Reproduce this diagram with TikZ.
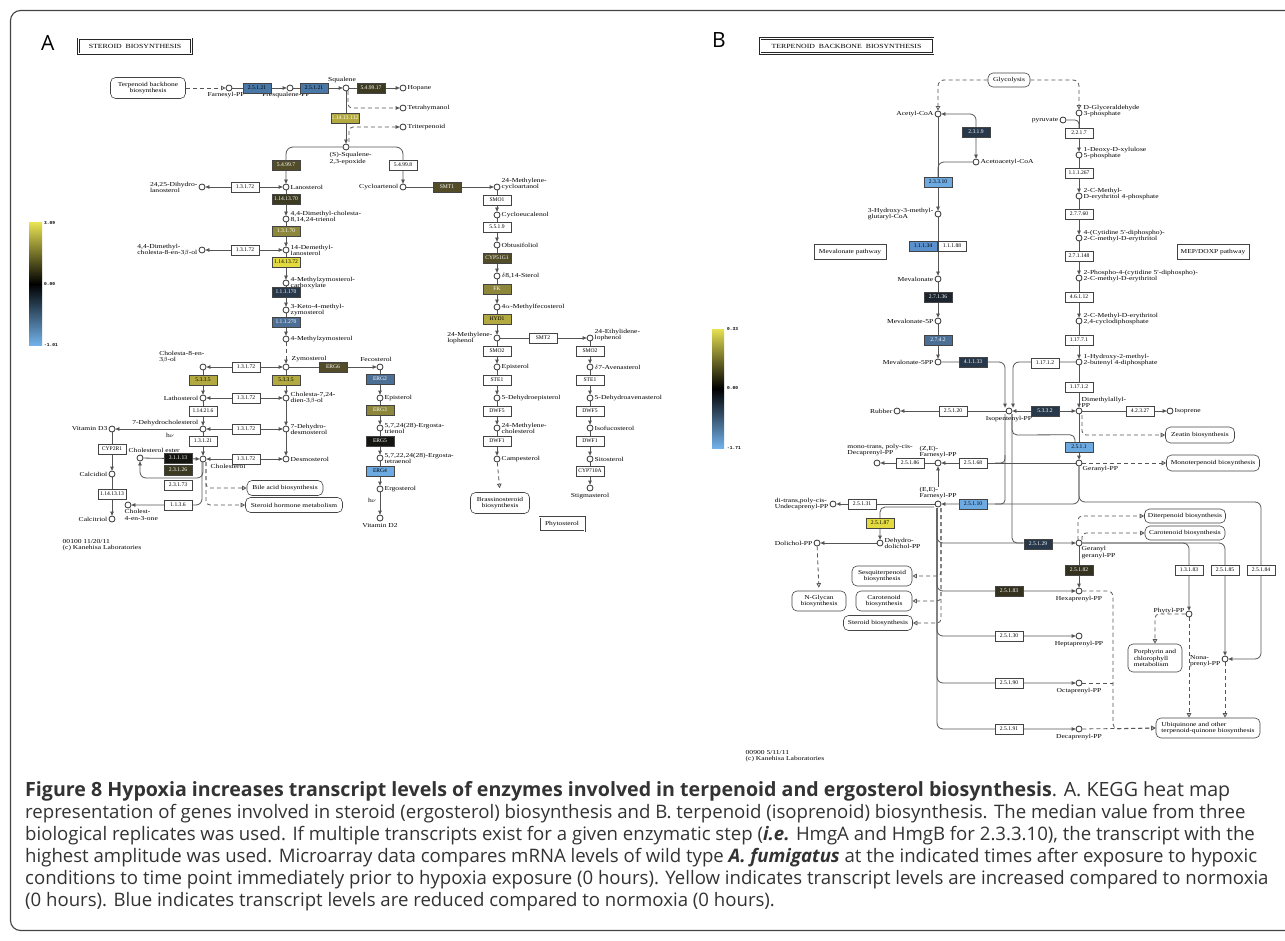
\documentclass[tikz,border=0pt]{standalone}
\usepackage{graphicx}
\usepackage{fontspec}
\setmainfont{Liberation Serif}
\newfontfamily\keggfont[FakeStretch=1.24]{Liberation Serif}
\newfontfamily\capfont{Open Sans}
\newfontfamily\keggmono{Liberation Mono}
\usetikzlibrary{arrows.meta,calc}
\pgfdeclarelayer{bgfill}
\pgfdeclarelayer{conns}
\pgfsetlayers{bgfill,conns,main}
\definecolor{kline}{HTML}{555555}
\definecolor{kbox}{HTML}{444444}
\definecolor{capgray}{HTML}{333333}
\definecolor{framegray}{HTML}{444444}
\definecolor{eBlue}{HTML}{4A78A6}
\definecolor{eDkOl}{HTML}{3D3A22}
\definecolor{eDkOlB}{HTML}{524D28}
\definecolor{eOlY}{HTML}{B2AA40}
\definecolor{eOl}{HTML}{8C873A}
\definecolor{eYel}{HTML}{E2DA3E}
\definecolor{eNavy}{HTML}{26384A}
\definecolor{eBlk}{HTML}{141410}
\definecolor{eLtB}{HTML}{6EAAE2}
\definecolor{eMidB}{HTML}{4C6F95}
\definecolor{eMB}{HTML}{5A90CC}
\definecolor{eVdk}{HTML}{1C2430}
\definecolor{eDkO2}{HTML}{34321E}
\definecolor{barY}{HTML}{E6E052}
\definecolor{barB}{HTML}{72B2EA}
\tikzset{
  >={Triangle[length=4pt,width=3.6pt]},
  enz/.style={draw=kbox, fill=white, line width=0.5pt, minimum width=28pt, minimum height=10pt, inner sep=0.5pt, font=\fontsize{5.6}{5.6}\selectfont},
  cpd/.style={circle, draw=black!80, fill=white, line width=0.8pt, minimum size=6pt, inner sep=0pt},
  lbl/.style={inner sep=0.5pt, align=left, font=\keggfont\fontsize{6.1}{6.1}\selectfont},
  mapb/.style={draw=kbox, fill=white, rounded corners=5pt, line width=0.6pt, inner sep=1pt, align=center, font=\keggfont\fontsize{6}{6.1}\selectfont},
  plainb/.style={draw=kbox, fill=white, line width=0.6pt, inner sep=1pt, align=center, font=\keggfont\fontsize{6}{6.1}\selectfont},
  titleb/.style={draw=black!85, double, double distance=1pt, line width=0.6pt, fill=white, inner sep=2pt, font=\keggfont\fontsize{6.3}{7}\selectfont},
  conn/.style={draw=kline, line width=0.8pt},
  dashconn/.style={draw=kline, line width=0.8pt, dash pattern=on 4pt off 3pt},
  oa/.style={-{Triangle[open,length=4.5pt,width=4.5pt,fill=white]}},
  barlbl/.style={anchor=west, inner sep=0pt, font=\keggmono\bfseries\fontsize{4.5}{5}\selectfont},
  captxt/.style={anchor=base west, inner sep=0pt, font=\capfont\fontsize{18.6}{20}\selectfont, text=capgray},
  paneltxt/.style={anchor=base west, inner sep=0pt, font=\capfont\fontsize{21}{21}\selectfont}
}
\newcommand\Cpd[4]{\node[cpd] (#1) at (#2) {}; \node[lbl,#3] at (#1) {#4};}
\newcommand\Enz[5]{\node[enz,fill=#3,text=#4] (#1) at (#2) {#5};}
\begin{document}
\begin{tikzpicture}[x=1pt,y=-1pt]
\useasboundingbox (0,0) rectangle (1285,941);
\begin{pgfonlayer}{bgfill}
\fill[white] (0,0) rectangle (1285,941);
\draw[draw=framegray, line width=1.1pt, rounded corners=10pt] (10.5,10.5) rectangle (1320,930.5);
\end{pgfonlayer}

% ================= PANEL A =================
\node[paneltxt] (pA) at (41,51) {A};
\node[titleb, minimum width=113pt, minimum height=15pt] (tA) at (135,46.5) {STEROID\ \ BIOSYNTHESIS};

% colour bar A
\shade[top color=barY, bottom color=barB, middle color=black] (29,223) rectangle (42,345);
\node[barlbl] (bA1) at (44,223) {3.09};
\node[barlbl] (bA2) at (44,284) {0.00};
\node[barlbl] (bA3) at (44,345) {-1.01};

% map boxes A
\node[mapb, minimum width=75pt, minimum height=21pt] (mTBB) at (148,88) {Terpenoid backbone\\biosynthesis};
\node[mapb, minimum width=76pt, minimum height=15pt] (mBile) at (285,488) {Bile acid biosynthesis};
\node[mapb, minimum width=97pt, minimum height=15pt] (mSHM) at (294,505) {Steroid hormone metabolism};
\node[mapb, minimum width=59pt, minimum height=21pt] (mBras) at (500,503) {Brassinosteroid\\biosynthesis};
\node[plainb, double, double distance=0.8pt, minimum width=45pt, minimum height=14pt] (mPhy) at (562,524) {Phytosterol};

% compounds A
\Cpd{cFPP}{229,88}{below=4pt,xshift=-3pt}{Farnesyl-PP}
\Cpd{cPSQ}{290,88}{below=4pt,xshift=-4pt}{Presqualene-PP}
\Cpd{cSQ}{346,88}{above=4pt,xshift=-4pt}{Squalene}
\Cpd{cHop}{403,88}{right=4pt}{Hopane}
\Cpd{cTet}{403,108}{right=4pt}{Tetrahymanol}
\Cpd{cTri}{403,127}{right=4pt}{Triterpenoid}
\Cpd{cEpo}{346,147}{anchor=north west,xshift=-17pt,yshift=-5pt}{(S)-Squalene-\\2,3-epoxide}
\Cpd{cLan}{286,187}{right=4pt}{Lanosterol}
\Cpd{cDHL}{202,187}{left=4pt,align=left}{24,25-Dihydro-\\lanosterol}
\Cpd{cDMC}{286,219}{right=4pt,yshift=2pt}{4,4-Dimethyl-cholesta-\\8,14,24-trienol}
\Cpd{cDML}{286,250}{right=4pt}{14-Demethyl-\\lanosterol}
\Cpd{cDMCol}{202,250}{left=4pt,align=left}{4,4-Dimethyl-\\cholesta-8-en-3$\beta$-ol}
\Cpd{cMZC}{286,283}{right=4pt}{4-Methylzymosterol-\\carboxylate}
\Cpd{cKMZ}{286,310}{right=4pt}{3-Keto-4-methyl-\\zymosterol}
\Cpd{cMZ}{286,339}{right=4pt}{4-Methylzymosterol}
\Cpd{cZym}{286,367}{anchor=west,xshift=5pt,yshift=8pt}{Zymosterol}
\Cpd{cC8}{203,367}{anchor=south east,xshift=2pt,yshift=4pt}{Cholesta-8-en-\\3$\beta$-ol}
\Cpd{cFec}{380,367}{anchor=south,xshift=-4pt,yshift=5pt}{Fecosterol}
\Cpd{cLath}{203,398}{left=4pt}{Lathosterol}
\Cpd{cC724}{286,398}{right=4pt}{Cholesta-7,24-\\dien-3$\beta$-ol}
\Cpd{cEpi}{380,398}{right=4pt}{Episterol}
\Cpd{cDHC}{203,429}{anchor=south east,xshift=-4pt,yshift=2pt}{7-Dehydrocholesterol}
\Cpd{cDHD}{286,429}{right=4pt}{7-Dehydro-\\desmosterol}
\Cpd{cErt}{380,428}{right=4pt}{5,7,24(28)-Ergosta-\\trienol}
\Cpd{cVD3}{112,429}{left=4pt}{Vitamin D3}
\Cpd{cChol}{203,459}{anchor=north west,xshift=7pt,yshift=-5pt}{Cholesterol}
\Cpd{cDes}{286,459}{right=4pt}{Desmosterol}
\Cpd{cErte}{380,458}{right=4pt}{5,7,22,24(28)-Ergosta-\\tetraenol}
\Cpd{cCE}{140,458}{anchor=south west,xshift=-12pt,yshift=5pt}{Cholesterol ester}
\Cpd{cCald}{112,474}{left=4pt}{Calcidiol}
\Cpd{cErg}{380,489}{right=4pt}{Ergosterol}
\Cpd{cC4}{128,505}{anchor=north west,xshift=-4pt,yshift=-4pt}{Cholest-\\4-en-3-one}
\Cpd{cVD2}{380,518}{below=5pt}{Vitamin D2}
\Cpd{cCalt}{112,519}{left=4pt}{Calcitriol}
\Cpd{cCyc}{403,187}{left=4pt}{Cycloartenol}
\Cpd{cMCA}{497,187}{anchor=west,xshift=4pt,yshift=3pt}{24-Methylene-\\cycloartanol}
\Cpd{cCye}{497,215}{right=4pt}{Cycloeucalenol}
\Cpd{cObt}{497,245}{right=4pt}{Obtusifoliol}
\Cpd{cD814}{497,276}{right=4pt}{$\delta$8,14-Sterol}
\Cpd{cMfec}{497,307}{right=4pt}{4$\alpha$-Methylfecosterol}
\Cpd{cMlop}{497,338}{left=4pt,align=left}{24-Methylene-\\lophenol}
\Cpd{cElop}{590,338}{anchor=west,xshift=4pt,yshift=3pt}{24-Ethylidene-\\lophenol}
\Cpd{cEpi2}{497,367}{right=4pt}{Episterol}
\Cpd{cDep}{497,398}{right=4pt}{5-Dehydroepisterol}
\Cpd{cMch}{497,428}{right=4pt}{24-Methylene-\\cholesterol}
\Cpd{cCamp}{497,459}{right=4pt}{Campesterol}
\Cpd{cAve}{590,367}{right=4pt}{$\delta$7-Avenasterol}
\Cpd{cDav}{590,398}{right=4pt}{5-Dehydroavenasterol}
\Cpd{cIso}{590,428}{right=4pt}{Isofucosterol}
\Cpd{cSit}{590,459}{right=4pt}{Sitosterol}
\Cpd{cStig}{590,488}{below=5pt}{Stigmasterol}

% enzymes A
\Enz{e1}{257,88}{eBlue}{black}{2.5.1.21}
\Enz{e2}{314,88}{eBlue}{black}{2.5.1.21}
\Enz{e3}{371,88}{eDkOl}{white}{5.4.99.17}
\Enz{e4}{345,118}{eOlY}{white}{1.14.13.132}
\Enz{e5}{286,165}{eDkOlB}{white}{5.4.99.7}
\Enz{e6}{403,165}{white}{black}{5.4.99.8}
\Enz{e7}{245,187}{white}{black}{1.3.1.72}
\Enz{e8}{286,199}{eDkOl}{white}{1.14.13.70}
\Enz{e9}{286,231}{eOl}{white}{1.3.1.70}
\Enz{e10}{245,250}{white}{black}{1.3.1.72}
\Enz{e11}{286,262}{eYel}{black}{1.14.13.72}
\Enz{e12}{286,292}{eNavy}{white}{1.1.1.170}
\Enz{e13}{286,322}{eMidB}{white}{1.1.1.270}
\Enz{e14}{246,367}{white}{black}{1.3.1.72}
\Enz{e15}{333,367}{eDkOlB}{white}{ERG6}
\Enz{e16}{203,380}{eOlY}{black}{5.3.3.5}
\Enz{e17}{286,380}{eOlY}{black}{5.3.3.5}
\Enz{e18}{380,379}{eMidB}{white}{ERG2}
\Enz{e19}{246,398}{white}{black}{1.3.1.72}
\Enz{e20}{203,411}{white}{black}{1.14.21.6}
\Enz{e21}{380,410}{eOl}{white}{ERG3}
\Enz{e22}{246,429}{white}{black}{1.3.1.72}
\Enz{e23}{203,441}{white}{black}{1.3.1.21}
\Enz{e24}{380,441}{eBlk}{white}{ERG5}
\Enz{e25}{246,459}{white}{black}{1.3.1.72}
\Enz{e26}{112,449}{white}{black}{CYP2R1}
\Enz{e27}{178,458}{eBlk}{white}{3.1.1.13}
\Enz{e28}{178,470}{eDkOl}{white}{2.3.1.26}
\Enz{e29}{178,485}{white}{black}{2.3.1.73}
\Enz{e30}{380,471}{eLtB}{black}{ERG4}
\Enz{e31}{112,494}{white}{black}{1.14.13.13}
\Enz{e32}{178,505}{white}{black}{1.1.3.6}
\Enz{e33}{447,187}{eDkOlB}{white}{SMT1}
\Enz{e34}{497,200}{white}{black}{SMO1}
\Enz{e35}{497,227}{white}{black}{5.5.1.9}
\Enz{e36}{497,258}{eDkOlB}{white}{CYP51G1}
\Enz{e37}{497,289}{eOl}{white}{FK}
\Enz{e38}{497,319}{eOlY}{black}{HYD1}
\Enz{e39}{543,338}{white}{black}{SMT2}
\Enz{e40}{497,351}{white}{black}{SMO2}
\Enz{e41}{497,380}{white}{black}{STE1}
\Enz{e42}{497,411}{white}{black}{DWF5}
\Enz{e43}{497,441}{white}{black}{DWF1}
\Enz{e44}{590,351}{white}{black}{SMO2}
\Enz{e45}{590,380}{white}{black}{STE1}
\Enz{e46}{590,411}{white}{black}{DWF5}
\Enz{e47}{590,441}{white}{black}{DWF1}
\Enz{e48}{590,471}{white}{black}{CYP710A}

\node[lbl] (hv1) at (170,435) {h$\nu$};
\node[lbl] (hv2) at (372,500) {h$\nu$};
\node[lbl, anchor=north west] (footA) at (62,539) {00100 11/20/11\\(c) Kanehisa Laboratories};

% ================= PANEL B =================
\node[paneltxt] (pB) at (712,48) {B};
\node[titleb, minimum width=173pt, minimum height=15pt] (tB) at (846.5,46) {TERPENOID\ \ BACKBONE\ \ BIOSYNTHESIS};

\shade[top color=barY, bottom color=barB, middle color=black] (712,329) rectangle (724,448);
\node[barlbl] (bB1) at (727,329) {0.33};
\node[barlbl] (bB2) at (727,388) {0.00};
\node[barlbl] (bB3) at (727,448) {-1.71};

% map boxes B
\node[mapb, minimum width=42pt, minimum height=14pt] (gGly) at (1009,80) {Glycolysis};
\node[plainb, minimum width=72pt, minimum height=15pt] (gMevP) at (850,252) {Mevalonate pathway};
\node[plainb, minimum width=72pt, minimum height=15pt] (gMEP) at (1213,252) {MEP/DOXP pathway};
\node[mapb, minimum width=69pt, minimum height=16pt] (gZea) at (1200,435) {Zeatin biosynthesis};
\node[mapb, minimum width=93pt, minimum height=16pt] (gMono) at (1213,463) {Monoterpenoid biosynthesis};
\node[mapb, minimum width=81pt, minimum height=14pt] (gDit) at (1185,516) {Diterpenoid biosynthesis};
\node[mapb, minimum width=80pt, minimum height=14pt] (gCar) at (1185,533) {Carotenoid biosynthesis};
\node[mapb, minimum width=60pt, minimum height=20pt] (gSesq) at (882,576) {Sesquiterpenoid\\biosynthesis};
\node[mapb, minimum width=56pt, minimum height=20pt] (gCar2) at (884,601) {Carotenoid\\biosynthesis};
\node[mapb, minimum width=69pt, minimum height=15pt] (gSter) at (878,623) {Steroid biosynthesis};
\node[mapb, minimum width=54pt, minimum height=20pt] (gNgly) at (819,601) {N-Glycan\\biosynthesis};
\node[mapb, minimum width=54pt, minimum height=28pt, align=left] (gPor) at (1155,658) {Porphyrin and\\chlorophyll\\metabolism};
\node[mapb, minimum width=104pt, minimum height=20pt, align=left] (gUbi) at (1208,728) {Ubiquinone and other\\terpenoid-quinone biosynthesis};

% compounds B
\Cpd{bAcCoA}{938,114}{left=4pt}{Acetyl-CoA}
\Cpd{bAcac}{976,162}{right=4pt}{Acetoacetyl-CoA}
\Cpd{bHMG}{938,214}{left=4pt,align=left}{3-Hydroxy-3-methyl-\\glutaryl-CoA}
\Cpd{bMev}{938,279}{left=4pt}{Mevalonate}
\Cpd{bMev5P}{938,321}{left=4pt}{Mevalonate-5P}
\Cpd{bMev5PP}{938,362}{left=4pt}{Mevalonate-5PP}
\Cpd{bIPP}{1009,411}{below=5pt}{Isopentenyl-PP}
\Cpd{bDMAPP}{1079,411}{anchor=south west,xshift=2pt,yshift=3pt}{Dimethylallyl-\\PP}
\Cpd{bRub}{897,411}{left=4pt}{Rubber}
\Cpd{bIsop}{1170,411}{right=4pt}{Isoprene}
\Cpd{bGA3P}{1079,113}{right=4pt,yshift=2pt}{D-Glyceraldehyde\\3-phosphate}
\Cpd{bPyr}{1063,120}{left=4pt}{pyruvate}
\Cpd{bDXP}{1079,155}{right=4pt,yshift=2pt}{1-Deoxy-D-xylulose\\5-phosphate}
\Cpd{bMEP}{1079,196}{right=4pt,yshift=2pt}{2-C-Methyl-\\D-erythritol 4-phosphate}
\Cpd{bCDPME}{1079,238}{right=4pt,yshift=2pt}{4-(Cytidine 5'-diphospho)-\\2-C-methyl-D-erythritol}
\Cpd{bCDPMEP}{1079,278}{right=4pt,yshift=2pt}{2-Phospho-4-(cytidine 5'-diphospho)-\\2-C-methyl-D-erythritol}
\Cpd{bMEcPP}{1079,321}{right=4pt,yshift=2pt}{2-C-Methyl-D-erythritol\\2,4-cyclodiphosphate}
\Cpd{bHMBPP}{1079,362}{right=4pt,yshift=2pt}{1-Hydroxy-2-methyl-\\2-butenyl 4-diphosphate}
\Cpd{bGPP}{1079,463}{anchor=north west,xshift=3pt,yshift=-3pt}{Geranyl-PP}
\Cpd{bZEFPP}{938,463}{above=4pt}{(Z,E)-\\Farnesyl-PP}
\Cpd{bDec}{877,463}{anchor=south,xshift=3pt,yshift=6pt}{mono-trans, poly-cis-\\Decaprenyl-PP}
\Cpd{bEEFPP}{938,504}{above=4pt,fill=white}{(E,E)-\\Farnesyl-PP}
\Cpd{bUnd}{833,504}{left=4pt,align=left}{di-trans,poly-cis-\\Undecaprenyl-PP}
\Cpd{bDhd}{880,543}{right=4pt}{Dehydro-\\dolichol-PP}
\Cpd{bDol}{817,543}{left=4pt}{Dolichol-PP}
\Cpd{bGGPP}{1079,543}{anchor=north west,xshift=2pt,yshift=-3pt}{Geranyl\\geranyl-PP}
\Cpd{bHex}{1079,591}{below=5pt}{Hexaprenyl-PP}
\Cpd{bHep}{1079,636}{below=5pt}{Heptaprenyl-PP}
\Cpd{bOct}{1079,683}{below=5pt}{Octaprenyl-PP}
\Cpd{bDecp}{1079,729}{below=5pt}{Decaprenyl-PP}
\Cpd{bPhy}{1189,614}{left=4pt,yshift=3pt}{Phytyl-PP}
\Cpd{bNon}{1225,659}{left=4pt,yshift=-2pt,align=left}{Nona-\\prenyl-PP}

% enzymes B
\Enz{f1}{976,132}{eNavy}{white}{2.3.1.9}
\Enz{f2}{938,182}{eLtB}{black}{2.3.3.10}
\Enz{f3}{923,246}{eMB}{black}{1.1.1.34}
\Enz{f4}{952,246}{white}{black}{1.1.1.88}
\Enz{f5}{938,297}{eVdk}{white}{2.7.1.36}
\Enz{f6}{938,340}{eMidB}{white}{2.7.4.2}
\Enz{f7}{973,362}{eNavy}{white}{4.1.1.33}
\Enz{f8}{953,411}{white}{black}{2.5.1.20}
\Enz{f9}{1045,411}{eNavy}{white}{5.3.3.2}
\Enz{f10}{1140,411}{white}{black}{4.2.3.27}
\Enz{f11}{1079,133}{white}{black}{2.2.1.7}
\Enz{f12}{1079,173}{white}{black}{1.1.1.267}
\Enz{f13}{1079,214}{white}{black}{2.7.7.60}
\Enz{f14}{1079,256}{white}{black}{2.7.1.148}
\Enz{f15}{1079,297}{white}{black}{4.6.1.12}
\Enz{f16}{1079,340}{white}{black}{1.17.7.1}
\Enz{f17}{1045,363}{white}{black}{1.17.1.2}
\Enz{f18}{1079,387}{white}{black}{1.17.1.2}
\Enz{f19}{1079,447}{eLtB}{black}{2.5.1.1}
\Enz{f20}{973,463}{white}{black}{2.5.1.68}
\Enz{f21}{910,463}{white}{black}{2.5.1.86}
\Enz{f22}{973,504}{eLtB}{black}{2.5.1.10}
\Enz{f23}{862,504}{white}{black}{2.5.1.31}
\Enz{f24}{880,523}{eYel}{black}{2.5.1.87}
\Enz{f25}{1038,544}{eNavy}{white}{2.5.1.29}
\Enz{f26}{1079,570}{eDkO2}{white}{2.5.1.82}
\Enz{f27}{1009,591}{eDkO2}{white}{2.5.1.83}
\Enz{f28}{1009,636}{white}{black}{2.5.1.30}
\Enz{f29}{1009,683}{white}{black}{2.5.1.90}
\Enz{f30}{1009,729}{white}{black}{2.5.1.91}
\Enz{f31}{1189,570}{white}{black}{1.3.1.83}
\Enz{f32}{1225,570}{white}{black}{2.5.1.85}
\Enz{f33}{1261,570}{white}{black}{2.5.1.84}

\node[lbl, anchor=north west] (footB) at (745,750) {00900 5/11/11\\(c) Kanehisa Laboratories};

% ================= CAPTION =================
\node[captxt] (cap1) at (25,796) {\resizebox{1205pt}{!}{\textbf{Figure 8 Hypoxia increases transcript levels of enzymes involved in terpenoid and ergosterol biosynthesis}. A. KEGG heat map}};
\node[captxt] (cap2) at (25,818) {representation of genes involved in steroid (ergosterol) biosynthesis and B. terpenoid (isoprenoid) biosynthesis. The median value from three};
\node[captxt] (cap3) at (25,840) {biological replicates was used. If multiple transcripts exist for a given enzymatic step (\textbf{\textit{i.e.}} HmgA and HmgB for 2.3.3.10), the transcript with the};
\node[captxt] (cap4) at (25,862) {highest amplitude was used. Microarray data compares mRNA levels of wild type \textbf{\textit{A. fumigatus}} at the indicated times after exposure to hypoxic};
\node[captxt] (cap5) at (25,884) {conditions to time point immediately prior to hypoxia exposure (0 hours). Yellow indicates transcript levels are increased compared to normoxia};
\node[captxt] (cap6) at (25,906) {(0 hours). Blue indicates transcript levels are reduced compared to normoxia (0 hours).};

% ================= CONNECTORS =================
\begin{pgfonlayer}{conns}
% --- A
\draw[dashconn,oa] (mTBB.east) -- (cFPP);
\draw[conn,->] (cFPP) -- (cPSQ);
\draw[conn,->] (cPSQ) -- (cSQ);
\draw[conn,->] (cSQ) -- (cHop);
\draw[dashconn,->,rounded corners=4] ($(cSQ)+(2,3)$) |- (cTet);
\draw[conn,->] (cSQ) -- (cEpo);
\draw[dashconn,->,rounded corners=4] ($(cEpo)+(3,-5)$) |- (cTri);
\draw[conn,->,rounded corners=7] (cEpo) -| (cLan);
\draw[conn,->,rounded corners=7] (cEpo) -| (cCyc);
\draw[conn,<->] (cDHL) -- (cLan);
\draw[conn,->] (cLan) -- (cDMC);
\draw[conn,->] (cDMC) -- (cDML);
\draw[conn,<->] (cDMCol) -- (cDML);
\draw[conn,->] (cDML) -- (cMZC);
\draw[conn,->] (cMZC) -- (cKMZ);
\draw[conn,->] (cKMZ) -- (cMZ);
\draw[dashconn,->] (cMZ) -- (cZym);
\draw[conn,<->] (cC8) -- (cZym);
\draw[conn,->] (cZym) -- (cFec);
\draw[conn,->] (cC8) -- (cLath);
\draw[conn,->] (cZym) -- (cC724);
\draw[conn,<->] (cLath) -- (cC724);
\draw[conn,->] (cLath) -- (cDHC);
\draw[conn,->] (cC724) -- (cDHD);
\draw[conn,<->] (cDHC) -- (cDHD);
\draw[conn,->] (cDHC) -- (cVD3);
\draw[conn,->] (cDHC) -- (cChol);
\draw[conn,->] (cDHD) -- (cDes);
\draw[conn,<->] (cChol) -- (cDes);
\draw[conn,->] (cVD3) -- (cCald);
\draw[conn,->] (cCald) -- (cCalt);
\draw[conn,->] (cCE) -- (cChol);
\draw[conn,->,rounded corners=6] ($(cChol)+(0,3)$) |- ($(cCE)+(0,20)$) -- (cCE);
\draw[conn,->,rounded corners=6] ($(cChol)+(-1,3)$) |- (cC4);
\draw[dashconn,oa,rounded corners=4] ($(cChol)+(3,3)$) |- (mBile.west);
\draw[dashconn,oa,rounded corners=4] ($(cChol)+(3,3)$) |- (mSHM.west);
\draw[conn,->] (cFec) -- (cEpi);
\draw[conn,->] (cEpi) -- (cErt);
\draw[conn,->] (cErt) -- (cErte);
\draw[conn,->] (cErte) -- (cErg);
\draw[conn,->] (cErg) -- (cVD2);
\draw[conn,->] (cCyc) -- (cMCA);
\draw[conn,->] (cMCA) -- (cCye);
\draw[conn,->] (cCye) -- (cObt);
\draw[conn,->] (cObt) -- (cD814);
\draw[conn,->] (cD814) -- (cMfec);
\draw[conn,->] (cMfec) -- (cMlop);
\draw[conn,->] (cMlop) -- (cElop);
\draw[conn,->] (cMlop) -- (cEpi2);
\draw[conn,->] (cEpi2) -- (cDep);
\draw[conn,->] (cDep) -- (cMch);
\draw[conn,->] (cMch) -- (cCamp);
\draw[dashconn,oa,shorten >=4pt] (cCamp) -- (mBras.north);
\draw[conn,->] (cElop) -- (cAve);
\draw[conn,->] (cAve) -- (cDav);
\draw[conn,->] (cDav) -- (cIso);
\draw[conn,->] (cIso) -- (cSit);
\draw[conn,->] (cSit) -- (cStig);
% --- B
\draw[dashconn,oa,rounded corners=6] (gGly.west) -| (bAcCoA);
\draw[dashconn,oa,rounded corners=6] (gGly.east) -| (bGA3P);
\draw[conn,<->,rounded corners=6] (bAcCoA) -| (bAcac);
\draw[conn,rounded corners=6] (bAcac) -| ($(bAcCoA)+(0,70)$);
\draw[conn,->] (bAcCoA) -- (bHMG);
\draw[conn,->] (bHMG) -- (bMev);
\draw[conn,->] (bMev) -- (bMev5P);
\draw[conn,->] (bMev5P) -- (bMev5PP);
\draw[conn,->,rounded corners=6] (bMev5PP) -| ($(bIPP.north)+(-4,0)$);
\draw[conn,->,rounded corners=6] (bHMBPP) -| ($(bIPP.north)+(4,0)$);
\draw[conn,<->] (bIPP) -- (bDMAPP);
\draw[conn,->] (bIPP) -- (bRub);
\draw[conn,->] (bDMAPP) -- (bIsop);
\draw[conn,->] (bHMBPP) -- (bDMAPP);
\draw[conn,->] (bGA3P) -- (bDXP);
\draw[conn,rounded corners=4] (bPyr) -| ($(bGA3P)+(0,20)$);
\draw[conn,->] (bDXP) -- (bMEP);
\draw[conn,->] (bMEP) -- (bCDPME);
\draw[conn,->] (bCDPME) -- (bCDPMEP);
\draw[conn,->] (bCDPMEP) -- (bMEcPP);
\draw[conn,->] (bMEcPP) -- (bHMBPP);
\draw[conn,->] (bDMAPP) -- (bGPP);
\draw[conn,rounded corners=5] ($(bIPP)+(3,3)$) -- ($(bIPP)+(3,24)$) -- ($(f19.north)+(-4,-7)$) -- ($(f19.north)+(-4,0)$);
\draw[conn,rounded corners=4] ($(bIPP)+(-4,3)$) -- ($(bIPP)+(-4,93)$) -- ($(bIPP)+(-14,93)$);
\draw[conn,rounded corners=4] ($(bIPP)+(-4,44)$) -- ($(bIPP)+(-4,52)$) -- ($(bIPP)+(-14,52)$);
\draw[conn,rounded corners=5] ($(bIPP)+(3,3)$) -- ($(bIPP)+(3,132)$) -- ($(bIPP)+(14,132)$);
\draw[dashconn,oa,rounded corners=4] ($(bDMAPP)+(3,4)$) |- (gZea.west);
\draw[dashconn,oa] (bGPP) -- (gMono.west);
\draw[conn,->] (bGPP) -- (bZEFPP);
\draw[conn,->] (bZEFPP) -- (bDec);
\draw[conn,->,rounded corners=6] (bGPP) |- (bEEFPP);
\draw[conn,<->] (bEEFPP) -- (bZEFPP);
\draw[conn,->] (bEEFPP) -- (bUnd);
\draw[conn,->,rounded corners=5] ($(bEEFPP)+(-4,3)$) -| (bDhd);
\draw[conn,->] (bDhd) -- (bDol);
\draw[dashconn,oa,shorten >=3pt] (bDol) -- (gNgly.north);
\draw[dashconn,oa,rounded corners=4] ($(bEEFPP)+(3,4)$) |- (gSesq.east);
\draw[dashconn,oa,rounded corners=4] ($(bEEFPP)+(3,4)$) |- (gCar2.east);
\draw[dashconn,oa,rounded corners=4] ($(bEEFPP)+(3,4)$) |- (gSter.east);
\draw[conn,->,rounded corners=6] ($(bEEFPP)+(-1,4)$) |- (bGGPP);
\draw[conn,->,rounded corners=6] ($(bEEFPP)+(-1,4)$) |- (bHex);
\draw[conn,->,rounded corners=6] ($(bEEFPP)+(-1,4)$) |- (bHep);
\draw[conn,->,rounded corners=6] ($(bEEFPP)+(-1,4)$) |- (bOct);
\draw[conn,->,rounded corners=6] ($(bEEFPP)+(-1,4)$) |- (bDecp);
\draw[conn,->] (bGGPP) -- (bHex);
\draw[dashconn,oa,rounded corners=5] (bHex) -| ($(bDecp)+(34,0)$) -- (gUbi.west);
\draw[dashconn] (bOct) -- ($(bOct)+(34,0)$);
\draw[dashconn,oa] (bDecp) -- (gUbi.west);
\draw[dashconn,oa,rounded corners=4] ($(bGGPP)+(-1,-3)$) |- (gDit.west);
\draw[dashconn,oa,rounded corners=4] ($(bGGPP)+(3,-3)$) |- (gCar.west);
\draw[conn,->,rounded corners=6] (bGGPP) -| (bPhy);
\draw[conn,->,rounded corners=6] (bGGPP) -| (bNon);
\draw[conn,->,rounded corners=6] (bGPP) -- ($(bGPP)+(0,39)$) -| ($(bNon)+(36,0)$) -- (bNon);
\draw[dashconn,oa,rounded corners=4] (bPhy) -| (gPor.north);
\draw[dashconn,oa] (bPhy) -- (bPhy |- gUbi.north);
\draw[dashconn,oa] (bNon) -- (bNon |- gUbi.north);
\end{pgfonlayer}
\end{tikzpicture}
\end{document}
